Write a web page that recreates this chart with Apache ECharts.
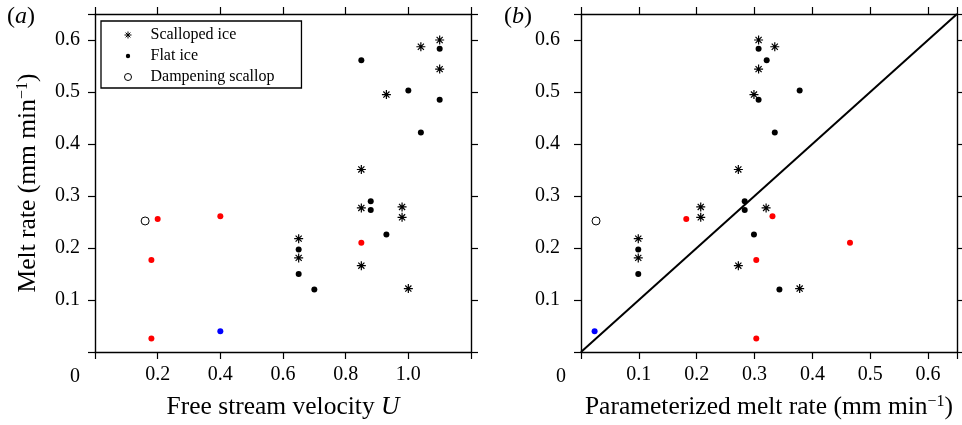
<!DOCTYPE html>
<html>
<head>
<meta charset="utf-8">
<script src="https://cdn.jsdelivr.net/npm/echarts@6/dist/echarts.min.js"></script>
<style>
html,body{margin:0;padding:0;background:#fff;}
#chart{width:962px;height:425px;}
</style>
</head>
<body>
<div id="chart"></div>
<script>
// ---- Data ----
// Scalloped ice
const scallopedU     = [1.10, 1.04, 1.10, 0.93, 0.85, 0.85, 0.98, 0.98, 0.65, 0.65, 0.85, 1.00];
const scallopedMelt  = [0.600, 0.587, 0.544, 0.495, 0.351, 0.277, 0.279, 0.259, 0.218, 0.181, 0.166, 0.122];
const scallopedParam = [0.307, 0.335, 0.307, 0.299, 0.272, 0.320, 0.207, 0.207, 0.099, 0.099, 0.272, 0.378];
// Flat ice (black)
const flatU     = [1.10, 0.85, 1.00, 1.10, 1.04, 0.88, 0.88, 0.93, 0.65, 0.65, 0.70];
const flatMelt  = [0.583, 0.561, 0.503, 0.485, 0.422, 0.290, 0.273, 0.226, 0.197, 0.150, 0.120];
const flatParam = [0.307, 0.321, 0.378, 0.307, 0.335, 0.283, 0.283, 0.299, 0.099, 0.099, 0.343];
// Flat ice (red)
const redU     = [0.20, 0.40, 0.18, 0.18, 0.85];
const redMelt  = [0.256, 0.261, 0.177, 0.026, 0.210];
const redParam = [0.182, 0.331, 0.303, 0.303, 0.465];
// Flat ice (blue)
const blueU     = [0.40];
const blueMelt  = [0.040];
const blueParam = [0.0235];
// Dampening scallop
const dampU     = [0.16];
const dampMelt  = [0.252];
const dampParam = [0.026];
// 1:1 line
const oneToOne = [0, 0.65];
// axis ticks
const xTicksA = [0.2, 0.4, 0.6, 0.8, 1.0];
const yTicks  = [0.1, 0.2, 0.3, 0.4, 0.5, 0.6];
const xTicksB = [0.1, 0.2, 0.3, 0.4, 0.5, 0.6];

const SERIF = '"Liberation Serif", "Times New Roman", serif';
const ASTERISK = 'path://M5,0L5,10M0,5L10,5M1.6,1.6L8.4,8.4M1.6,8.4L8.4,1.6';
const SMALL_DOT = 'path://M0,0M10,10M5,1.9A3.1,3.1,0,1,1,4.99,1.9Z';

function pairs(xs, ys) { return xs.map((x, i) => [x, ys[i]]); }
function fmt(list) {
  return function (v) {
    for (const t of list) { if (Math.abs(v - t) < 1e-6) return t.toFixed(1); }
    return '';
  };
}

const axisLine = { show: true, onZero: false, lineStyle: { color: '#000', width: 1.4 } };
const axisTick = { show: true, length: 7, lineStyle: { color: '#000', width: 1.2 } };
const labelStyle = { fontFamily: SERIF, fontSize: 20, color: '#000' };
const TF = 25.5;
const nameStyle = {
  fontFamily: SERIF, fontSize: TF, color: '#000',
  rich: {
    sup: { fontFamily: SERIF, fontSize: 16, color: '#000', verticalAlign: 'top', padding: [0, 0, 10, 0] },
    it: { fontFamily: SERIF, fontSize: TF, color: '#000', fontStyle: 'italic' }
  }
};

function xAx(grid, max, interval, ticks, pos, name, gap) {
  return {
    gridIndex: grid, type: 'value', min: 0, max: max, interval: interval, position: pos,
    axisLine: axisLine, axisTick: axisTick, splitLine: { show: false },
    axisLabel: Object.assign({ show: pos === 'bottom', formatter: fmt(ticks), margin: 13 }, labelStyle),
    name: name || '', nameLocation: 'middle', nameGap: gap || 0, nameTextStyle: nameStyle
  };
}
function yAx(grid, pos, margin, name, gap) {
  return {
    gridIndex: grid, type: 'value', min: 0, max: 0.65, interval: 0.1, position: pos,
    axisLine: axisLine, axisTick: axisTick, splitLine: { show: false },
    axisLabel: Object.assign({ show: pos === 'left', formatter: fmt(yTicks), margin: margin }, labelStyle),
    name: name || '', nameLocation: 'middle', nameGap: gap || 0, nameTextStyle: nameStyle
  };
}

function scatterSet(xi, scU, flU, rU, bU, dU) {
  return [
    { name: 'Scalloped ice', type: 'scatter', xAxisIndex: xi, yAxisIndex: xi,
      symbol: ASTERISK, symbolSize: 9,
      itemStyle: { color: 'rgba(0,0,0,0)', borderColor: '#000', borderWidth: 1.2, opacity: 1 },
      data: pairs(scU, scallopedMelt), z: 5 },
    { name: 'Flat ice', type: 'scatter', xAxisIndex: xi, yAxisIndex: xi,
      symbol: 'circle', symbolSize: 6, itemStyle: { color: '#000', opacity: 1 },
      data: pairs(flU, flatMelt), z: 5 },
    { name: 'Flat ice red', type: 'scatter', xAxisIndex: xi, yAxisIndex: xi,
      symbol: 'circle', symbolSize: 6, itemStyle: { color: '#ff0000', opacity: 1 },
      data: pairs(rU, redMelt), z: 5 },
    { name: 'Flat ice blue', type: 'scatter', xAxisIndex: xi, yAxisIndex: xi,
      symbol: 'circle', symbolSize: 6, itemStyle: { color: '#0000ff', opacity: 1 },
      data: pairs(bU, blueMelt), z: 5 },
    { name: 'Dampening scallop', type: 'scatter', xAxisIndex: xi, yAxisIndex: xi,
      symbol: 'circle', symbolSize: 8,
      itemStyle: { color: '#fff', borderColor: '#000', borderWidth: 1, opacity: 1 },
      data: pairs(dU, dampMelt), z: 5 }
  ];
}

const chart = echarts.init(document.getElementById('chart'), null, { renderer: 'canvas' });
const option = {
  animation: false,
  backgroundColor: '#fff',
  grid: [
    { left: 95, top: 14, width: 376, height: 339 },
    { left: 581, top: 14, width: 376, height: 339 }
  ],
  xAxis: [
    xAx(0, 1.2, 0.2, xTicksA, 'bottom', 'Free stream velocity {it|U}', 42),
    xAx(0, 1.2, 0.2, xTicksA, 'top'),
    xAx(1, 0.65, 0.1, xTicksB, 'bottom', 'Parameterized melt rate (mm min{sup|\u22121})', 42),
    xAx(1, 0.65, 0.1, xTicksB, 'top')
  ],
  yAxis: [
    yAx(0, 'left', 15, 'Melt rate (mm min{sup|\u22121})', 54),
    yAx(0, 'right', 8),
    yAx(1, 'left', 21),
    yAx(1, 'right', 8)
  ],
  legend: {
    show: true, orient: 'vertical', left: 101, top: 21,
    padding: [6, 27, 3, 23], itemGap: 5, itemWidth: 7, itemHeight: 7,
    borderColor: '#000', borderWidth: 1.3, backgroundColor: '#fff',
    selectedMode: false,
    textStyle: { fontFamily: SERIF, fontSize: 16, color: '#000',
      rich: { t: { fontFamily: SERIF, fontSize: 16, color: '#000', padding: [0, 0, 0, 14] } } },
    formatter: function (n) { return '{t|' + n + '}'; },
    data: [
      { name: 'Scalloped ice', icon: ASTERISK,
        itemStyle: { color: 'rgba(0,0,0,0)', borderColor: '#000', borderWidth: 1, opacity: 1 } },
      { name: 'Flat ice', icon: SMALL_DOT, itemStyle: { color: '#000', borderWidth: 0, opacity: 1 } },
      { name: 'Dampening scallop', icon: 'circle',
        itemStyle: { color: '#fff', borderColor: '#000', borderWidth: 1, opacity: 1 } }
    ]
  },
  graphic: [
    { type: 'text', left: 7, top: 5, style: { text: '({i|a})', font: '24px ' + SERIF, fill: '#000',
      rich: { i: { fontFamily: SERIF, fontSize: 24, fontStyle: 'italic', fill: '#000' } } } },
    { type: 'text', left: 504, top: 5, style: { text: '({i|b})', font: '24px ' + SERIF, fill: '#000',
      rich: { i: { fontFamily: SERIF, fontSize: 24, fontStyle: 'italic', fill: '#000' } } } },
    { type: 'text', x: 80, y: 377, style: { text: '0', font: '20px ' + SERIF, fill: '#000', align: 'right', verticalAlign: 'middle' } },
    { type: 'text', x: 566, y: 377, style: { text: '0', font: '20px ' + SERIF, fill: '#000', align: 'right', verticalAlign: 'middle' } }
  ],
  series: [].concat(
    scatterSet(0, scallopedU, flatU, redU, blueU, dampU),
    scatterSet(2, scallopedParam, flatParam, redParam, blueParam, dampParam),
    [{ name: '1:1', type: 'line', xAxisIndex: 2, yAxisIndex: 2, symbol: 'none',
       lineStyle: { color: '#000', width: 2 }, data: pairs(oneToOne, oneToOne), z: 3 }]
  )
};
chart.setOption(option);
</script>
</body>
</html>
